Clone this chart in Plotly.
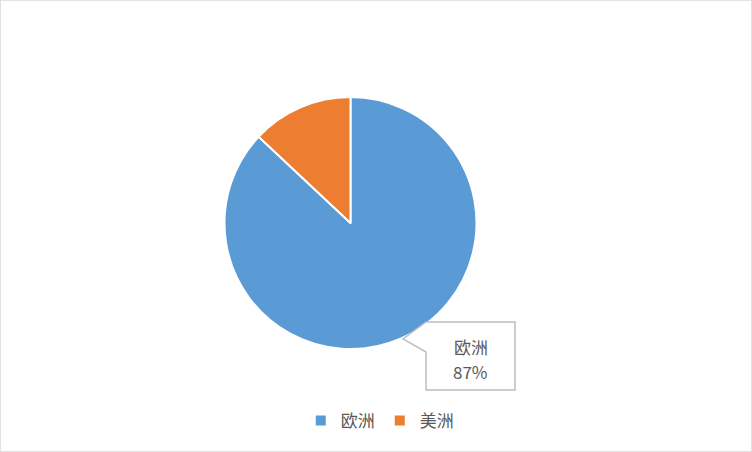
import plotly.graph_objects as go

labels = ["欧洲", "美洲"]
values = [87, 13]
colors = ["#5B9BD5", "#ED7D31"]

W, H = 752, 452
cx, cy, r = 350.5, 223, 126
FONT = "Noto Sans CJK SC"


def px(x):
    return x / W


def py(y):
    return (H - y) / H


fig = go.Figure(
    data=[
        go.Pie(
            labels=labels,
            values=values,
            sort=False,
            direction="clockwise",
            rotation=0,
            textinfo="none",
            hoverinfo="label+percent",
            marker=dict(colors=colors, line=dict(color="white", width=2)),
            domain=dict(x=[px(cx - r), px(cx + r)], y=[py(cy + r), py(cy - r)]),
        )
    ]
)

# callout box with pointer toward the big slice
bx0, by0, bx1, by1 = 426, 322, 515, 390
tip = (403, 339)
path = (f"M {px(bx0)},{py(by0)} L {px(tip[0])},{py(tip[1])} L {px(bx0)},{py(352)} "
        f"L {px(bx0)},{py(by1)} L {px(bx1)},{py(by1)} L {px(bx1)},{py(by0)} Z")
shapes = [
    dict(type="path", xref="paper", yref="paper", path=path,
         fillcolor="white", line=dict(color="#bfbfbf", width=1.5)),
    dict(type="rect", xref="paper", yref="paper", x0=0, y0=0, x1=1, y1=1,
         line=dict(color="#d9d9d9", width=1.5)),
]

pct = round(100 * values[0] / sum(values))
lab_cx = (bx0 + bx1) / 2
for txt, yy in [(labels[0], 346), (f"{pct}%", 371)]:
    fig.add_annotation(
        x=px(lab_cx), y=py(yy), xref="paper", yref="paper",
        text=txt, showarrow=False, xanchor="center", yanchor="middle",
        font=dict(family=FONT, size=17, color="#595959"),
    )

fig.update_layout(
    width=W, height=H,
    margin=dict(l=0, r=0, t=0, b=0),
    paper_bgcolor="white",
    showlegend=True,
    legend=dict(
        orientation="h", x=0.505, xanchor="center", y=py(421), yanchor="middle",
        font=dict(family=FONT, size=17, color="#595959"),
        itemwidth=30,
    ),
    shapes=shapes,
)

fig.write_html("out.html", config={"displayModeBar": False},
               post_script="document.body.style.margin='0';")
